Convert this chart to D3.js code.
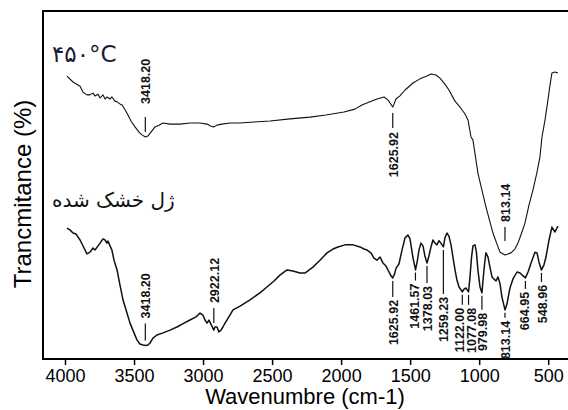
<!DOCTYPE html>
<html>
<head>
<meta charset="utf-8">
<script src="https://cdn.jsdelivr.net/npm/d3@7"></script>
<style>
  body { margin: 0; background: #fff; }
  svg { display: block; }
</style>
</head>
<body>
<div id="chart"></div>
<script>
// FTIR spectra, two samples. Values are [wavenumber (cm-1), transmittance (arbitrary %)]

const spectrum450 = [
  [3986, 81.3], [3942, 79.6], [3891, 78.4], [3870, 76.7], [3841, 75.9], [3819, 75.9], [3797, 76.4],
  [3783, 75.6], [3761, 76.1], [3746, 75.0], [3725, 75.9], [3710, 74.7], [3696, 75.3], [3674, 74.7],
  [3660, 75.3], [3638, 74.1], [3623, 73.9], [3602, 73.3], [3587, 73.0], [3565, 71.6], [3544, 70.1],
  [3522, 68.4], [3493, 66.7], [3464, 65.2], [3442, 64.4], [3418, 63.8], [3399, 64.1], [3377, 65.2],
  [3348, 66.7], [3319, 67.2], [3290, 67.8], [3239, 67.5], [3167, 67.5], [3095, 67.8], [3022, 67.8],
  [2971, 67.5], [2942, 66.9], [2921, 66.7], [2899, 67.2], [2863, 67.5], [2805, 67.8], [2732, 67.8],
  [2631, 68.1], [2515, 68.4], [2370, 69.0], [2225, 69.5], [2110, 70.1], [1979, 71.0], [1900, 71.8],
  [1849, 73.0], [1791, 73.9], [1740, 74.7], [1689, 75.3], [1660, 74.4], [1626, 72.4], [1613, 73.6],
  [1603, 74.7], [1574, 75.6], [1537, 77.3], [1479, 79.3], [1429, 80.5], [1378, 81.3], [1349, 81.9],
  [1313, 81.6], [1284, 80.7], [1248, 79.0], [1219, 77.3], [1175, 74.1], [1139, 72.4], [1103, 70.4],
  [1081, 68.7], [1059, 63.8], [1045, 62.9], [1009, 53.4], [987, 49.7], [951, 43.7], [922, 39.4],
  [900, 36.2], [871, 33.0], [849, 30.7], [813, 29.9], [791, 30.2], [770, 30.5], [741, 31.6],
  [719, 33.3], [690, 36.5], [668, 39.1], [639, 44.3], [610, 48.6], [581, 53.7], [560, 58.0],
  [545, 63.8], [523, 68.7], [502, 74.4], [487, 78.7], [473, 82.2], [451, 82.5], [429, 82.2]
]

const spectrumGel = [
  [3986, 37.6], [3964, 37.1], [3942, 36.2], [3920, 35.9], [3891, 34.2], [3862, 31.9], [3841, 30.2],
  [3819, 30.7], [3797, 31.9], [3783, 31.3], [3761, 32.5], [3746, 33.3], [3725, 34.5], [3710, 34.2],
  [3696, 33.3], [3689, 33.9], [3674, 32.5], [3660, 31.3], [3645, 28.4], [3623, 25.6], [3602, 21.3],
  [3580, 17.0], [3551, 13.2], [3529, 10.3], [3500, 7.5], [3479, 5.5], [3457, 4.3], [3435, 4.0],
  [3418, 3.9], [3399, 4.0], [3384, 4.6], [3363, 6.0], [3334, 6.9], [3290, 7.5], [3239, 8.3],
  [3189, 9.2], [3138, 10.3], [3095, 11.2], [3051, 12.1], [3022, 13.2], [3000, 12.6], [2986, 11.2],
  [2971, 10.3], [2957, 11.2], [2950, 10.6], [2922, 8.3], [2914, 9.2], [2899, 9.2], [2885, 7.8],
  [2870, 8.3], [2856, 9.2], [2841, 10.3], [2827, 11.2], [2783, 14.1], [2732, 15.2], [2660, 17.0],
  [2588, 19.0], [2537, 20.7], [2486, 22.4], [2443, 24.1], [2392, 25.6], [2349, 25.3], [2298, 24.7],
  [2262, 24.7], [2204, 26.4], [2153, 28.4], [2102, 30.5], [2059, 31.6], [2023, 32.2], [1972, 32.8],
  [1914, 32.8], [1863, 32.2], [1834, 31.6], [1812, 31.3], [1784, 30.5], [1762, 29.0], [1740, 28.4],
  [1718, 29.3], [1697, 27.6], [1675, 26.7], [1653, 25.0], [1639, 23.9], [1626, 23.3], [1613, 24.4],
  [1602, 26.1], [1581, 27.3], [1559, 31.3], [1537, 34.8], [1516, 35.6], [1501, 34.5], [1479, 29.0],
  [1461, 25.6], [1447, 28.4], [1436, 31.3], [1422, 33.3], [1407, 32.5], [1393, 29.6], [1378, 27.6],
  [1364, 29.6], [1349, 32.2], [1335, 34.2], [1320, 33.3], [1306, 32.8], [1291, 34.0], [1277, 33.3],
  [1259, 32.2], [1248, 34.8], [1233, 36.2], [1219, 35.3], [1204, 32.8], [1190, 29.3], [1175, 25.6],
  [1161, 22.7], [1146, 20.7], [1122, 19.3], [1110, 20.1], [1096, 20.4], [1077, 19.3], [1067, 23.3],
  [1056, 29.0], [1045, 32.5], [1030, 32.8], [1020, 30.7], [1009, 25.6], [994, 20.7], [980, 19.0],
  [972, 22.7], [961, 27.3], [951, 30.5], [936, 29.3], [922, 26.4], [907, 23.6], [893, 23.0],
  [878, 22.4], [864, 23.6], [849, 21.6], [835, 17.8], [813, 14.1], [799, 15.8], [777, 20.4],
  [755, 23.0], [726, 25.0], [704, 24.7], [682, 23.9], [665, 23.3], [646, 25.0], [624, 27.6],
  [596, 30.7], [581, 30.5], [567, 27.9], [549, 25.6], [531, 27.0], [516, 29.3], [494, 34.2],
  [473, 37.9], [451, 36.5], [429, 38.2]
]

const peaks450 = [3418.20, 1625.92, 813.14]
const peaksGel = [3418.20, 2922.12, 1625.92, 1461.57, 1378.03, 1259.23, 1122.00, 1077.08, 979.98, 813.14, 664.95, 548.96]

const xTicks = [4000, 3500, 3000, 2500, 2000, 1500, 1000, 500]
const label450 = '۴۵۰°C'
const labelGel = 'ژل خشک شده'
const xTitle = 'Wavenumbre (cm-1)'
const yTitle = 'Trancmitance (%)'

// Peak label layout: [side, gap curve->tick, tick length, gap tick->text, text shift x]
const layout450 = [['up', 5, 15, 13, 0], ['down', 6, 15, 4, 0], ['up', 14, 14, 5, 0]]
const layoutGel = [
  ['up', 5, 17, 5, 0], ['up', 7, 15, 5, 0], ['down', 3, 16, 3, 0], ['down', 3, 8, 3, -1],
  ['down', 3, 17, 3, 0], ['down', 3, 44, 3, 0], ['down', 3, 10, 3, -3], ['down', 3, 10, 3, 2],
  ['down', 3, 14, 3, 0], ['down', 3, 5, 3, 0], ['down', 3, 8, 3, -1], ['down', 3, 9, 3, 1]
]

const width = 568
const height = 410
const frame = {left: 43, top: 11, bottom: 359, right: 572}
const font = "'Liberation Sans', Arial, sans-serif"

const svg = d3.select('#chart')
  .append('svg')
  .attr('width', width)
  .attr('height', height)
  .style('font-family', font)

const xScale = d3.scaleLinear().domain([4000, 500]).range([65, 548.2])
const yScale = d3.scaleLinear().domain([0, 100]).range([frame.bottom, frame.top])

// Frame (left, top, bottom; right side is cut off in the original)
svg.append('path')
  .attr('d', `M${frame.right},${frame.top}H${frame.left}V${frame.bottom}H${frame.right}`)
  .style('fill', 'none')
  .style('stroke', '#000')
  .style('stroke-width', 2)

// Bottom axis
const bAxis = svg.append('g')
  .attr('transform', `translate(0,${frame.bottom})`)
  .call(d3.axisBottom(xScale)
    .tickValues(xTicks)
    .tickFormat(d3.format('d'))
    .tickSize(6)
    .tickPadding(4))
bAxis.select('.domain').remove()
bAxis.selectAll('.tick line').style('stroke', '#000').style('stroke-width', 1.5)
bAxis.selectAll('.tick text')
  .style('font-family', font)
  .style('font-size', '18px')
  .style('fill', '#000')

// Axis titles
svg.append('text')
  .attr('x', 305)
  .attr('y', 404)
  .style('text-anchor', 'middle')
  .style('font-size', '22px')
  .text(xTitle)

svg.append('text')
  .attr('transform', `translate(31,194) rotate(-90)`)
  .style('text-anchor', 'middle')
  .style('font-size', '24px')
  .text(yTitle)

// Spectra
const linePath = d3.line()
  .x(d => xScale(d[0]))
  .y(d => yScale(d[1]))

const lineWidths = [1.1, 1.5]
svg.append('g').selectAll('.spectrum')
  .data([spectrum450, spectrumGel])
  .join('path')
  .attr('class', 'spectrum')
  .attr('d', linePath)
  .style('fill', 'none')
  .style('stroke', '#111')
  .style('stroke-width', (d, i) => lineWidths[i])
  .style('stroke-linejoin', 'round')

// Transmittance at a given wavenumber, by linear interpolation of the series
function valueAt(series, wn) {
  for (let i = 0; i < series.length - 1; i++) {
    const a = series[i], b = series[i + 1]
    if (wn <= a[0] && wn >= b[0]) {
      const f = (a[0] - wn) / (a[0] - b[0])
      return a[1] + f * (b[1] - a[1])
    }
  }
  return series[series.length - 1][1]
}

function drawPeaks(series, peaks, layout) {
  const g = svg.append('g')
  peaks.forEach((wn, i) => {
    const [side, gap1, len, gap2, dx] = layout[i]
    const x = xScale(wn)
    const yc = yScale(valueAt(series, wn))
    const dir = side === 'up' ? -1 : 1
    const y1 = yc + dir * gap1
    const y2 = y1 + dir * len
    g.append('line')
      .attr('x1', x).attr('x2', x)
      .attr('y1', y1).attr('y2', y2)
      .style('stroke', '#111')
      .style('stroke-width', 1.2)
    g.append('text')
      .attr('transform', `translate(${x + 0.5 + dx},${y2 + dir * gap2}) rotate(-90)`)
      .attr('dy', '0.36em')
      .style('text-anchor', side === 'up' ? 'start' : 'end')
      .style('font-size', '12.5px')
      .style('font-weight', 'bold')
      .style('fill', '#111')
      .text(wn.toFixed(2))
  })
}

drawPeaks(spectrum450, peaks450, layout450)
drawPeaks(spectrumGel, peaksGel, layoutGel)

// Sample labels
svg.append('text')
  .attr('x', 52)
  .attr('y', 62)
  .style('font-family', "'DejaVu Sans', sans-serif")
  .style('font-size', '23px')
  .style('fill', '#1a1a3a')
  .text(label450)

svg.append('text')
  .attr('x', 52)
  .attr('y', 207)
  .style('font-family', "'DejaVu Sans', sans-serif")
  .style('font-size', '20px')
  .style('fill', '#111')
  .text(labelGel)
</script>
</body>
</html>
